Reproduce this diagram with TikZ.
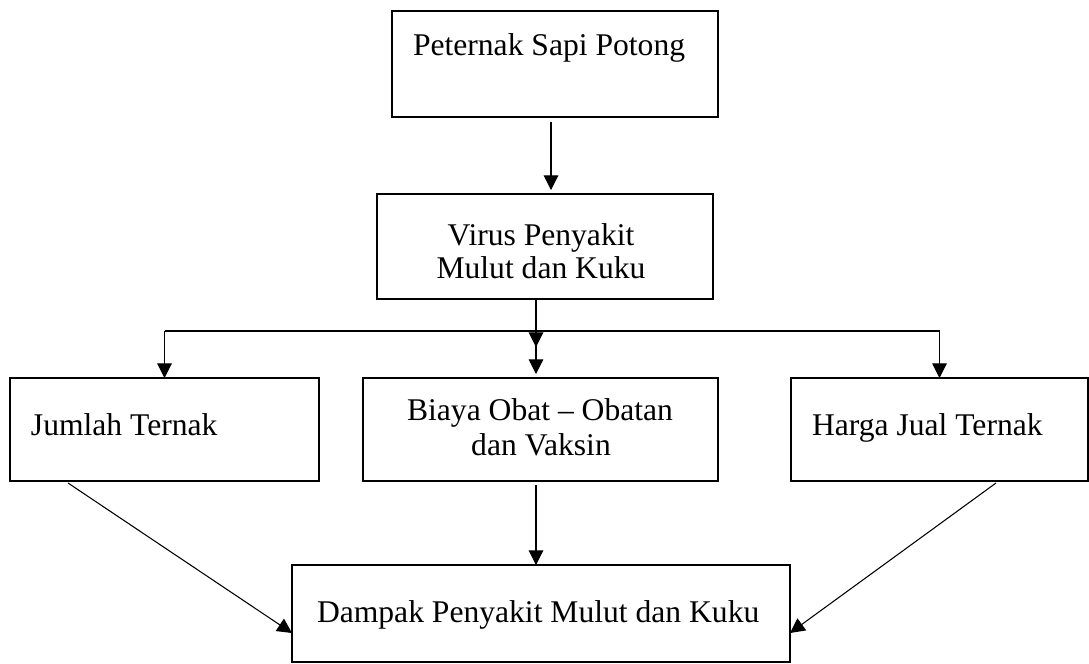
\documentclass[tikz,border=0pt]{standalone}
\usepackage{fontspec}
\setmainfont{Liberation Serif}
\usetikzlibrary{arrows.meta,calc}
\tikzset{
  box/.style={draw=black, line width=1.1pt, inner sep=0pt, outer sep=0pt},
  thickbox/.style={box, line width=2pt},
  txt/.style={inner sep=0pt, outer sep=0pt, font=\fontsize{23.7}{26}\selectfont},
  conn/.style={draw=black, line width=0.8pt},
  arr/.style={conn, -{Triangle[length=11pt,width=11pt]}}
}
\begin{document}
\begin{tikzpicture}[x=0.75pt,y=-0.75pt]
\useasboundingbox (0,0) rectangle (1089,664);
% boxes
\node[thickbox, minimum width=244.5pt, minimum height=79.5pt] (b1) at (555,64) {};
\node[thickbox, minimum width=252pt, minimum height=78.75pt] (b2) at (545,246.5) {};
\node[box, minimum width=231.75pt, minimum height=77.25pt] (b3) at (164.5,429.5) {};
\node[box, minimum width=266.25pt, minimum height=77.25pt] (b4) at (540.5,429.5) {};
\node[box, minimum width=222.75pt, minimum height=77.25pt] (b5) at (939.5,429.5) {};
\node[box, minimum width=373.5pt, minimum height=72.75pt] (b6) at (541,613.5) {};
% texts
\node[txt, anchor=base west] (t1) at (413,55) {Peternak Sapi Potong};
\node[txt, anchor=base] (t2a) at (541,245) {Virus Penyakit};
\node[txt, anchor=base] (t2b) at (541,278) {Mulut dan Kuku};
\node[txt, anchor=base west] (t3) at (31,435) {Jumlah Ternak};
\node[txt, anchor=base] (t4a) at (540,420) {Biaya Obat -- Obatan};
\node[txt, anchor=base] (t4b) at (541,455) {dan Vaksin};
\node[txt, anchor=base west] (t5) at (812,435) {Harga Jual Ternak};
\node[txt, anchor=base west] (t6) at (317,622) {Dampak Penyakit Mulut dan Kuku};
% connectors
\coordinate (j) at (536,331);
\coordinate (j2) at (536,347);
\draw[arr, shorten <=4pt, shorten >=3pt] (b1.south -| 551,0) -- (b2.north -| 551,0);
\draw[arr] (j |- b2.south) -- (j2);
\draw[conn] (b3.north |- j) -- (b5.north |- j);
\draw[arr] (b3.north |- j) -- (b3.north);
\draw[arr] (b5.north |- j) -- (b5.north);
\draw[arr, shorten >=3pt] (j) -- (j |- b4.north);
\draw[arr, shorten <=3pt] (j |- b4.south) -- (j |- b6.north);
\draw[arr] ($(b3.south west)+(58,2)$) -- ($(b6.south west)+(0,-29)$);
\draw[arr] ($(b5.south west)+(205,2)$) -- ($(b6.south east)+(0,-29)$);
\end{tikzpicture}
\end{document}
